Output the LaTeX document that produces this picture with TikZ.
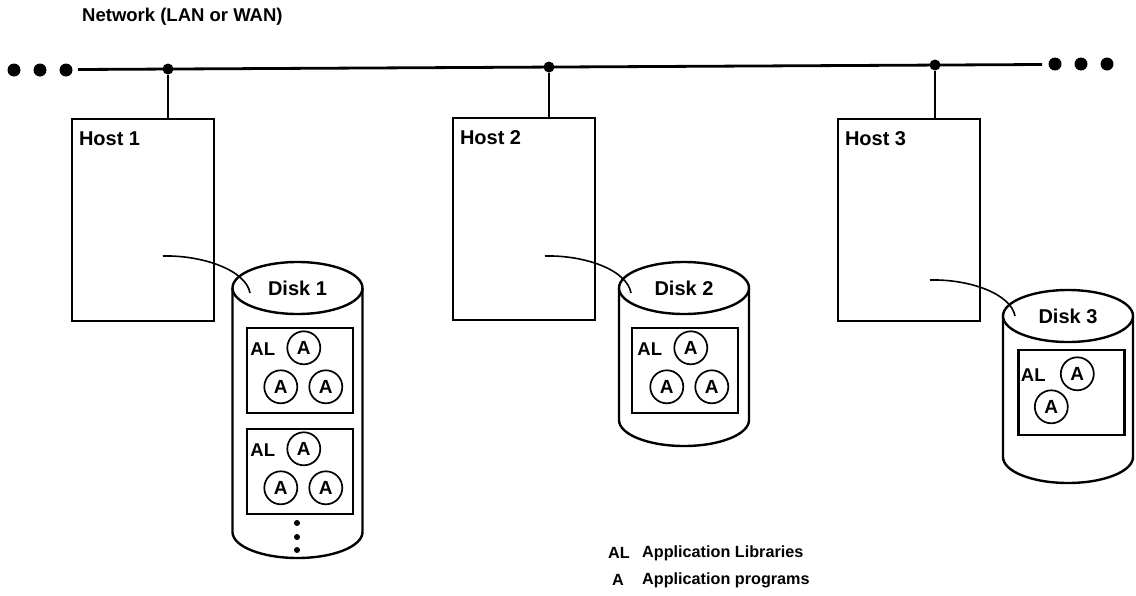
\documentclass[tikz,border=0pt]{standalone}
\usepackage{fontspec}
\setmainfont{Liberation Sans}
\usetikzlibrary{shapes.geometric,calc}
\begin{document}
\begin{tikzpicture}[x=1pt,y=-1pt,
  title/.style={font=\bfseries\fontsize{18.5}{21}\selectfont, inner sep=0pt},
  txt/.style={font=\bfseries\fontsize{20}{22}\selectfont, inner sep=0pt},
  keytxt/.style={font=\bfseries\fontsize{16.2}{19}\selectfont, inner sep=0pt},
  hostbox/.style={draw, line width=2.4pt, minimum width=142pt, minimum height=202pt, inner sep=0pt},
  disktop/.style={draw, ellipse, line width=2.4pt, minimum width=130pt, minimum height=52pt,
                  inner sep=0pt, fill=white, font=\bfseries\fontsize{20}{22}\selectfont},
  wall/.style={line width=2.4pt},
  appbox/.style={draw, line width=2.4pt, inner sep=0pt, minimum width=106pt, minimum height=85pt},
  app/.style={draw, circle, line width=1.7pt, minimum size=33pt, inner sep=0pt,
              font=\bfseries\fontsize{19}{21}\selectfont},
  lib/.style={inner sep=0pt, font=\bfseries\fontsize{18.5}{20}\selectfont},
  lnk/.style={line width=1.6pt},
  bus/.style={line width=2.8pt},
  busdot/.style={circle, fill, inner sep=0pt, minimum size=13pt},
  tap/.style={circle, fill, inner sep=0pt, minimum size=11pt},
  moredot/.style={circle, fill, inner sep=0pt, minimum size=6pt}]

\useasboundingbox (0,0) rectangle (1136,595);
\fill[white] (0,0) rectangle (1136,595);

% network bus
\node[title, anchor=west] (net) at (82,17) {Network (LAN or WAN)};
\node[busdot] (l1) at (14,70) {};
\node[busdot] (l2) at (40,70) {};
\node[busdot] (l3) at (66,70) {};
\node[busdot] (r1) at (1055,64) {};
\node[busdot] (r2) at (1081,64) {};
\node[busdot] (r3) at (1107,64) {};
\coordinate (busL) at (78,69.5);
\coordinate (busR) at (1042,64.5);
\draw[bus] (busL) -- (busR);
\node[tap] (t1) at (168,69) {};
\node[tap] (t2) at (549,67) {};
\node[tap] (t3) at (935,65) {};

% hosts
\node[hostbox] (h1) at (143,220) {};
\node[hostbox] (h2) at (524,219) {};
\node[hostbox] (h3) at (909,220) {};
\node[txt, anchor=north west] at ($(h1.north west)+(8,14)$) {Host 1};
\node[txt, anchor=north west] at ($(h2.north west)+(8,14)$) {Host 2};
\node[txt, anchor=north west] at ($(h3.north west)+(8,14)$) {Host 3};
\draw[bus] (t1) -- (t1 |- h1.north);
\draw[bus] (t2) -- (t2 |- h2.north);
\draw[bus] (t3) -- (t3 |- h3.north);

% disks: side walls and bottom, then the top
\draw[wall] (232.5,288) -- (232.5,532) arc (180:0:65 and 26) -- (362.5,288);
\node[disktop] (d1) at (297.5,288) {Disk 1};
\draw[wall] (619,288) -- (619,420) arc (180:0:65 and 26) -- (749,288);
\node[disktop] (d2) at (684,288) {Disk 2};
\draw[wall] (1003,316) -- (1003,457) arc (180:0:65 and 26) -- (1133,316);
\node[disktop] (d3) at (1068,316) {Disk 3};

% host to disk links
\coordinate (h1o) at (163,256);
\coordinate (d1i) at (250,293);
\draw[lnk] (h1o) .. controls (202,255) and (246,270) .. (d1i);
\coordinate (h2o) at (545,256);
\coordinate (d2i) at (631,293);
\draw[lnk] (h2o) .. controls (585,255) and (627,270) .. (d2i);
\coordinate (h3o) at (930,280);
\coordinate (d3i) at (1015,316);
\draw[lnk] (h3o) .. controls (970,279) and (1011,294) .. (d3i);

% disk 1 contents
\node[appbox] (b11) at (300,370.5) {};
\node[lib] (al11) at ($(b11.north west)+(17,22)$) {AL};
\node[app] (a111) at ($(b11.north west)+(58,21)$) {A};
\node[app] (a112) at ($(b11.north west)+(35,60)$) {A};
\node[app] (a113) at ($(b11.north west)+(80,60)$) {A};
\node[appbox] (b12) at (300,471.5) {};
\node[lib] (al12) at ($(b12.north west)+(17,22)$) {AL};
\node[app] (a121) at ($(b12.north west)+(58,21)$) {A};
\node[app] (a122) at ($(b12.north west)+(35,60)$) {A};
\node[app] (a123) at ($(b12.north west)+(80,60)$) {A};
\node[moredot] (m1) at (297,523) {};
\node[moredot] (m2) at (297,537) {};
\node[moredot] (m3) at (297,550) {};

% disk 2 contents
\node[appbox] (b21) at (685,370.5) {};
\node[lib] (al21) at ($(b21.north west)+(19,22)$) {AL};
\node[app] (a211) at ($(b21.north west)+(60,21)$) {A};
\node[app] (a212) at ($(b21.north west)+(36,60)$) {A};
\node[app] (a213) at ($(b21.north west)+(81,60)$) {A};

% disk 3 contents
\node[appbox] (b31) at (1071.5,392.5) {};
\node[lib] (al31) at ($(b31.north west)+(16,26)$) {AL};
\node[app] (a311) at ($(b31.north west)+(60,25)$) {A};
\node[app] (a312) at ($(b31.north west)+(34,58)$) {A};

% legend
\node[keytxt] (kAL) at (619,553) {AL};
\node[keytxt, anchor=west] (kALt) at (642,553) {Application Libraries};
\node[keytxt] (kA) at (618,580) {A};
\node[keytxt, anchor=west] (kAt) at (642,580) {Application programs};
\end{tikzpicture}
\end{document}
